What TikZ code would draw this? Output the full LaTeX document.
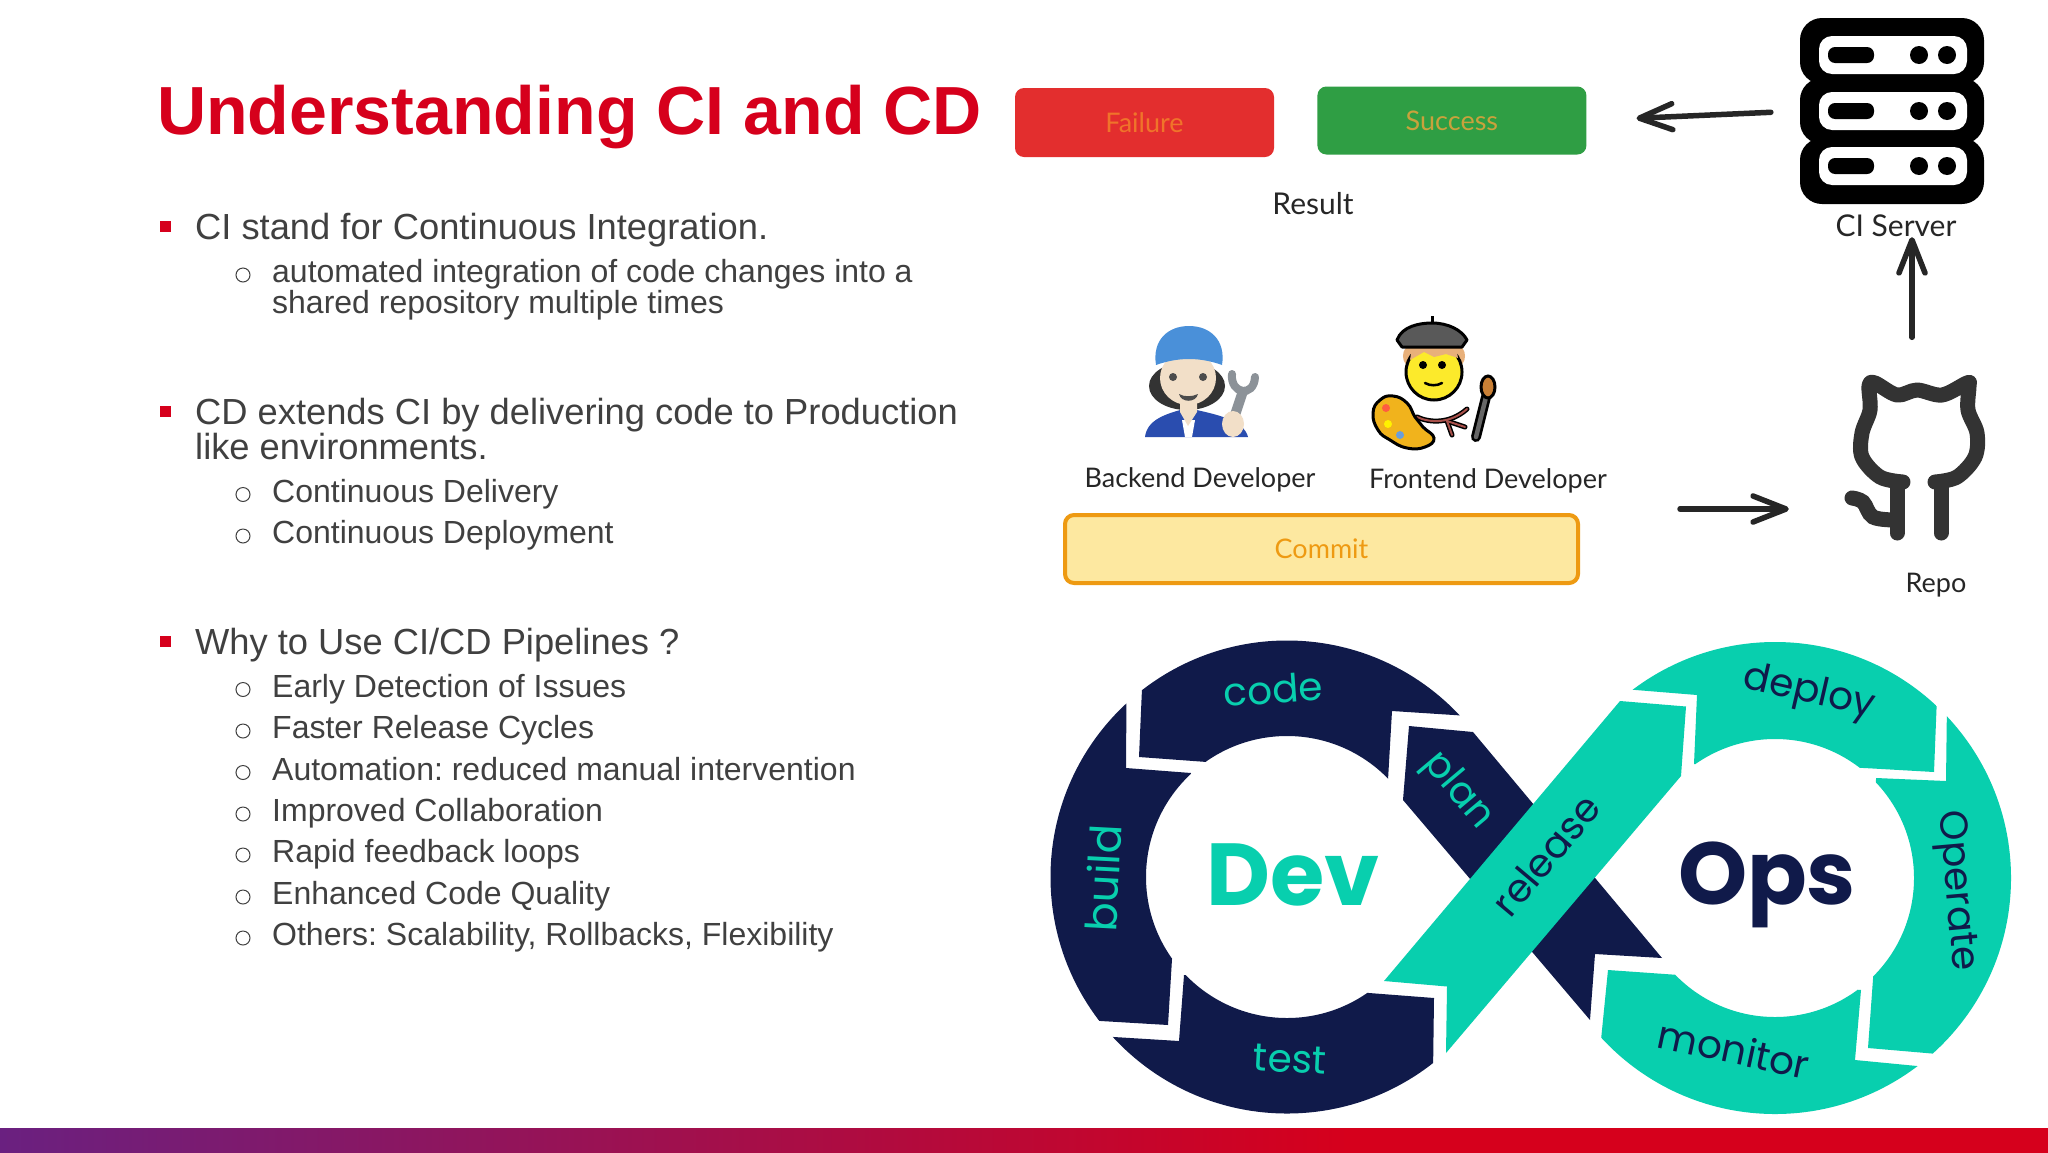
\documentclass[tikz,border=0pt]{standalone}
\usepackage{fontspec}
\setmainfont{Liberation Sans}
\newfontfamily\sketchfont{Lato}
\newfontfamily\badgefont{Poppins}
\frenchspacing
\usetikzlibrary{positioning,arrows.meta}

\definecolor{slidered}{HTML}{D6001C}
\definecolor{slidegray}{HTML}{404040}
\definecolor{barpurple}{HTML}{6A2080}
\definecolor{devnavy}{HTML}{101A4A}
\definecolor{opsteal}{HTML}{08CFAE}
\definecolor{catgray}{HTML}{333333}
\definecolor{failred}{HTML}{E32E2E}
\definecolor{failtext}{HTML}{F0742A}
\definecolor{passgreen}{HTML}{2F9E44}
\definecolor{passtext}{HTML}{C9A23C}
\definecolor{commitfill}{HTML}{FDE8A0}
\definecolor{commitline}{HTML}{EE9A12}
\definecolor{capblue}{HTML}{4A90D9}
\definecolor{suitblue}{HTML}{2A4DAF}
\definecolor{skin}{HTML}{F2DFC8}
\definecolor{wrench}{HTML}{8C9298}
\definecolor{facey}{HTML}{FCEA2B}
\definecolor{hairor}{HTML}{E8B07A}
\definecolor{palette}{HTML}{F1B31C}
\definecolor{scarf}{HTML}{A8504A}

\tikzset{
  titletext/.style={anchor=base west,inner sep=0pt,text=slidered,font=\fontsize{68.1}{70}\selectfont\bfseries},
  mainitem/.style={anchor=base west,inner sep=0pt,text=slidegray,font=\fontsize{36.3}{40}\selectfont},
  subitem/.style={anchor=base west,inner sep=0pt,text=slidegray,font=\fontsize{32}{36}\selectfont},
  redbullet/.style={rectangle,fill=slidered,draw=none,inner sep=0pt,minimum size=11pt},
  ringbullet/.style={circle,draw=slidegray,line width=1pt,inner sep=0pt,minimum size=14pt},
  sketchlabel/.style={inner sep=0pt,text=black!85,font=\sketchfont\fontsize{27}{30}\selectfont},
  widelabel/.style={inner sep=0pt,text=black!85,font=\sketchfont\fontsize{30}{33}\selectfont},
  resultbox/.style={rectangle,rounded corners=9pt,inner sep=0pt,font=\sketchfont\fontsize{27}{30}\selectfont},
  flow/.style={draw=black!85,line width=5.5pt,line cap=round,-{Straight Barb[round,length=33pt,width=26pt]}},
  devring/.style={fill=devnavy,even odd rule},
  opsring/.style={fill=opsteal,even odd rule},
  cattext/.style={inner sep=0pt,font=\badgefont\fontsize{39}{42}\selectfont},
  bigword/.style={inner sep=0pt,font=\badgefont\fontsize{88}{94}\selectfont\bfseries},
}

\begin{document}
\begin{tikzpicture}[x=1pt,y=-1pt]

  \useasboundingbox (0,0) rectangle (2048,1152);
  \fill[white] (0,0) rectangle (2048,1152);

  % bottom bar
  \shade[left color=barpurple,right color=slidered] (0,1128) rectangle (1350,1156);
  \fill[slidered] (1349,1128) rectangle (2052,1156);

  % left column
  \node[titletext] (title) at (157,134) {Understanding CI and CD};

  \node[redbullet] (bulA) at (165,226) {};
  \node[mainitem] (mainA) at (195,239) {CI stand for Continuous Integration.};
  \node[ringbullet] (ringA) at (243,275) {};
  \node[subitem] (subA) at (272,282.5) {automated integration of code changes into a};
  \node[subitem] (subAb) at (272,313) {shared repository multiple times};

  \node[redbullet] (bulB) at (165,411) {};
  \node[mainitem] (mainB) at (195,424) {CD extends CI by delivering code to Production};
  \node[mainitem] (mainBb) at (195,459) {like environments.};
  \node[ringbullet] (ringB) at (243,494.5) {};
  \node[subitem] (subB) at (272,502) {Continuous Delivery};
  \node[ringbullet] (ringBb) at (243,536) {};
  \node[subitem] (subBb) at (272,543.5) {Continuous Deployment};

  \node[redbullet] (bulC) at (165,641) {};
  \node[mainitem] (mainC) at (195,654) {Why to Use CI/CD Pipelines ?};
  \node[ringbullet] (ringC) at (243,689.5) {};
  \node[subitem] (subC) at (272,697) {Early Detection of Issues};
  \node[ringbullet] (ringD) at (243,731) {};
  \node[subitem] (subD) at (272,738.5) {Faster Release Cycles};
  \node[ringbullet] (ringE) at (243,772.5) {};
  \node[subitem] (subE) at (272,780) {Automation: reduced manual intervention};
  \node[ringbullet] (ringF) at (243,814) {};
  \node[subitem] (subF) at (272,821.5) {Improved Collaboration};
  \node[ringbullet] (ringG) at (243,855) {};
  \node[subitem] (subG) at (272,862.5) {Rapid feedback loops};
  \node[ringbullet] (ringH) at (243,897) {};
  \node[subitem] (subH) at (272,904.5) {Enhanced Code Quality};
  \node[ringbullet] (ringI) at (243,938) {};
  \node[subitem] (subI) at (272,945.5) {Others: Scalability, Rollbacks, Flexibility};

  % result boxes
  \node[resultbox,fill=failred,text=failtext,minimum width=259pt,minimum height=69pt] (failure) at (1144.5,122.5) {Failure};
  \node[resultbox,fill=passgreen,text=passtext,minimum width=269pt,minimum height=68pt,right=43pt of failure,yshift=2pt] (success) {Success};
  \node[widelabel] (result) at (1313,204) {Result};

  % server rack
  \node[minimum width=184pt,minimum height=186pt,inner sep=0pt] (server) at (1892,111) {};
  \fill[black,rounded corners=22pt] (1800,18) rectangle (1984,84);
  \fill[black,rounded corners=22pt] (1800,78) rectangle (1984,144);
  \fill[black,rounded corners=22pt] (1800,138) rectangle (1984,204);
  \fill[white,rounded corners=13pt] (1819,36) rectangle (1967,74);
  \fill[white,rounded corners=13pt] (1819,92) rectangle (1967,130);
  \fill[white,rounded corners=13pt] (1819,147) rectangle (1967,185);
  \fill[black,rounded corners=7pt] (1828,47) rectangle (1874,63);
  \fill[black,rounded corners=7pt] (1828,103) rectangle (1874,119);
  \fill[black,rounded corners=7pt] (1828,158) rectangle (1874,174);
  \fill[black] (1919,55) circle[radius=9] (1947,55) circle[radius=9];
  \fill[black] (1919,111) circle[radius=9] (1947,111) circle[radius=9];
  \fill[black] (1919,166) circle[radius=9] (1947,166) circle[radius=9];
  \node[widelabel] (serverlabel) at (1896,226) {CI Server};

  % backend developer
  \fill[black!80] (1187,386) ellipse[x radius=38,y radius=24];
  \fill[suitblue] (1145,437) .. controls (1147,420) and (1165,414) .. (1184,409) -- (1192,409) .. controls (1215,414) and (1244,420) .. (1248,437) -- cycle;
  \fill[white] (1182,420) -- (1195,420) -- (1192,437) -- (1185,437) -- cycle;
  \fill[skin] (1180,398) -- (1197,398) -- (1197,412) -- (1188,426) -- (1180,412) -- cycle;
  \fill[skin] (1188,378) ellipse[x radius=28,y radius=27];
  \fill[capblue] (1156,365) .. controls (1152,340) and (1168,326) .. (1189,326) .. controls (1210,326) and (1226,340) .. (1222,365) .. controls (1200,357) and (1178,357) .. (1156,365) -- cycle;
  \fill[black!70] (1173,377) circle[radius=4] (1203,377) circle[radius=4];
  \fill[black!70] (1179,394) .. controls (1184,397) and (1192,397) .. (1198,394) .. controls (1196,403) and (1181,403) .. (1179,394) -- cycle;
  \draw[wrench,line width=10pt] (1235,415) -- (1243,391);
  \draw[wrench,line width=8pt,line cap=round] (1232,374) .. controls (1230,394) and (1254,398) .. (1255,377);
  \fill[skin] (1233,424) ellipse[x radius=11,y radius=13];

  % frontend developer
  \draw[black,line width=3pt] (1432,316) -- (1432,326);
  \fill[hairor] (1410,356) ellipse[x radius=7,y radius=10];
  \fill[hairor] (1458,356) ellipse[x radius=7,y radius=10];
  \draw[black,line width=3pt,fill=facey] (1434,372) ellipse[x radius=28,y radius=28];
  \fill[hairor] (1412,347) -- (1456,347) -- (1458,358) -- (1446,354) -- (1434,357) -- (1424,352) -- (1410,360) -- cycle;
  \draw[black,line width=3pt,fill=black!65,line join=round] (1397,340) .. controls (1402,326) and (1420,323) .. (1432,323) .. controls (1448,323) and (1462,330) .. (1467,340) -- (1462,347) -- (1402,347) -- cycle;
  \fill[black] (1423,365) circle[radius=4] (1442,365) circle[radius=4];
  \draw[black,line width=2.5pt,line cap=round] (1425,383) .. controls (1430,386) and (1437,386) .. (1442,383);
  \draw[black,line width=5pt,line cap=round] (1417,417) .. controls (1430,423) and (1450,424) .. (1467,409);
  \draw[black,line width=5pt,line cap=round] (1447,421) -- (1452,435);
  \draw[black,line width=5pt,line cap=round] (1447,421) -- (1465,427);
  \draw[scarf,line width=2pt,line cap=round] (1417,417) .. controls (1430,423) and (1450,424) .. (1467,409);
  \draw[scarf,line width=2pt,line cap=round] (1447,421) -- (1452,435);
  \draw[scarf,line width=2pt,line cap=round] (1447,421) -- (1465,427);
  \draw[black,line width=3pt,fill=palette] plot[smooth cycle,tension=.8] coordinates {(1373,413) (1380,400) (1393,396) (1407,403) (1415,417) (1423,427) (1434,438) (1425,447) (1407,448) (1390,440) (1378,430)};
  \fill[red!70!orange!75!white] (1386,408) circle[radius=4];
  \fill[yellow] (1388,424) circle[radius=4];
  \fill[cyan!55!blue!60!white] (1400,435) circle[radius=4];
  \draw[black,line width=10pt,line cap=round] (1476,437) -- (1486,397);
  \draw[black!60,line width=4.5pt,line cap=round] (1476,437) -- (1486,397);
  \draw[black,line width=3pt,fill=brown!85!orange] (1488,387) ellipse[x radius=7,y radius=11];

  \node[sketchlabel] (backend) at (1200,480) {Backend Developer};
  \node[sketchlabel] (frontend) at (1488,481) {Frontend Developer};

  % commit box
  \node[resultbox,fill=commitfill,draw=commitline,line width=4pt,text=commitline,minimum width=513pt,minimum height=68pt] (commit) at (1321.5,549) {Commit};

  % repo cat
  \node[minimum width=140pt,minimum height=165pt,inner sep=0pt] (repo) at (1912,457) {};
  \draw[catgray,line width=15pt,line cap=round,line join=round] plot[smooth,tension=.55] coordinates {(1903,482) (1880,477) (1862,457) (1862,433) (1870,410) (1869,386) (1875,383) (1897,395) (1917,390) (1942,395) (1967,383) (1969,386) (1968,410) (1977,433) (1975,457) (1957,477) (1935,482)};
  \draw[catgray,line width=15pt,line cap=round] (1897,483) -- (1897,533);
  \draw[catgray,line width=15pt,line cap=round] (1941,483) -- (1941,533);
  \draw[catgray,line width=15pt,line cap=round] plot[smooth,tension=.6] coordinates {(1852,498) (1863,502) (1873,517) (1895,520)};
  \node[sketchlabel] (repolabel) at (1936,585) {Repo};

  \draw[flow,shorten <=29pt,shorten >=50pt] (server.west) -- (success.east);
  \draw[flow,shorten <=37pt] (repo.north) -- (repo.north |- serverlabel.south);
  \draw[flow,shorten <=100pt,shorten >=53pt] ([yshift=4pt]commit.north east) -- ([yshift=4pt]commit.north east -| repo.west);

  % dev loop
  \coordinate (devc) at (1287,877);
  \coordinate (opsc) at (1775,878);
  \begin{scope}
    \clip (1145,620) -- (1139,757) -- (1207,762) -- (1388,780) -- (1392,711) -- (1500,718) -- (1500,620) -- cycle;
    \fill[devring] (devc) circle[radius=236.5] (devc) circle[radius=141];
  \end{scope}
  \begin{scope}
    \clip (1127,620) -- (1126,768) -- (1191,773) -- (1172,959) -- (1168,1025) -- (1000,1015) -- (1000,620) -- cycle;
    \fill[devring] (devc) circle[radius=236.5] (devc) circle[radius=141];
  \end{scope}
  \begin{scope}
    \clip (1000,1030) -- (1179,1041) -- (1184,975) -- (1369,993) -- (1434,998) -- (1432,1150) -- (1000,1150) -- cycle;
    \fill[devring] (devc) circle[radius=236.5] (devc) circle[radius=141];
  \end{scope}
  \fill[devnavy] (1409,726) -- (1473,732) -- (1662,958) -- (1595,954) -- (1590,1020) -- (1403,800) -- cycle;
  \fill[opsteal] (1620,701) -- (1686,706.5) -- (1681,776) -- (1446,1053) -- (1447,986.5) -- (1384,981) -- cycle;

  % ops loop
  \begin{scope}
    \clip (1550,683) -- (1697,695) -- (1694,764) -- (1864,768) -- (1934,772) -- (1940,620) -- (1550,620) -- cycle;
    \fill[opsring] (opsc) circle[radius=236] (opsc) circle[radius=139];
  \end{scope}
  \begin{scope}
    \clip (1948,620) -- (1946,781) -- (1876,778) -- (1873,979) -- (1868,1048) -- (2100,1068) -- (2100,620) -- cycle;
    \fill[opsring] (opsc) circle[radius=236] (opsc) circle[radius=139];
  \end{scope}
  \begin{scope}
    \clip (1590,1150) -- (1608,970) -- (1679,975) -- (1861,990) -- (1855,1060) -- (2000,1074) -- (2000,1150) -- cycle;
    \fill[opsring] (opsc) circle[radius=236] (opsc) circle[radius=139];
  \end{scope}

  \node[bigword,text=opsteal] (dev) at (1293,875) {Dev};
  \node[bigword,text=devnavy] (ops) at (1767,885) {Ops};
  \node[cattext,text=opsteal,rotate=4] (code) at (1273,689) {code};
  \node[cattext,text=opsteal,rotate=-50] (plan) at (1458,791) {plan};
  \node[cattext,text=opsteal,rotate=87,font=\badgefont\fontsize{43}{46}\selectfont] (build) at (1103,878) {build};
  \node[cattext,text=opsteal,rotate=-3] (test) at (1290,1059) {test};
  \node[cattext,text=devnavy,rotate=50] (release) at (1546,855) {release};
  \node[cattext,text=devnavy,rotate=-13] (deploy) at (1809,693) {deploy};
  \node[cattext,text=devnavy,rotate=-85] (operate) at (1955,891) {Operate};
  \node[cattext,text=devnavy,rotate=-12] (monitor) at (1734,1049) {monitor};

\end{tikzpicture}
\end{document}
